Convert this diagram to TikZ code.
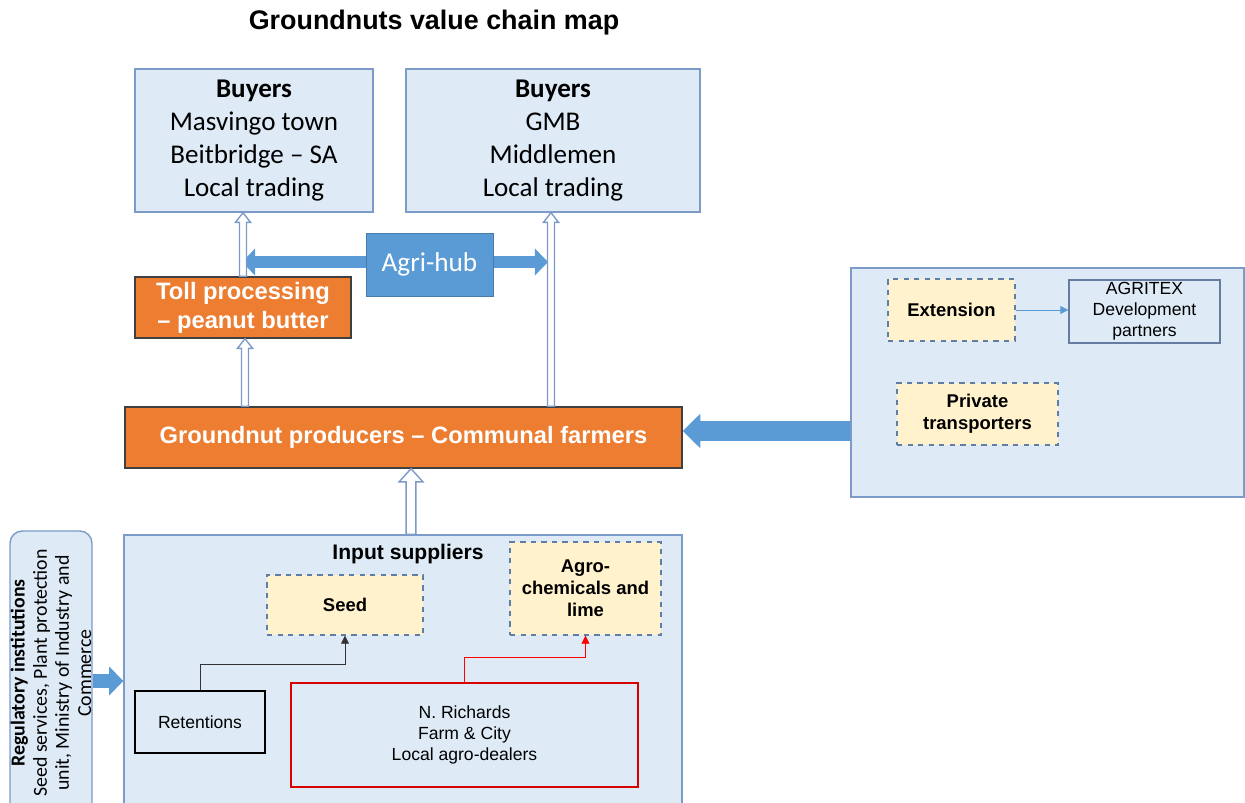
\documentclass[tikz,border=0pt]{standalone}
\usepackage{fontspec}
\setmainfont{Liberation Sans}
\newfontfamily\calibri{Carlito}
\usetikzlibrary{arrows.meta,calc}

\definecolor{paleblue}{RGB}{222,235,247}
\definecolor{edgeblue}{RGB}{125,155,200}
\definecolor{hubblue}{RGB}{91,155,213}
\definecolor{peanut}{RGB}{237,125,49}
\definecolor{cream}{RGB}{255,242,204}
\definecolor{dashblue}{RGB}{95,125,165}

\def\pxu{0.02cm}

% vertical hollow arrow: from, to, shaft half width, head half width, head length
\newcommand{\hollowup}[5]{%
	\draw[hollow] let \p1=(#1), \p2=(#2) in
		(\x1-#3,\y1) -- (\x1-#3,\y2-#5) -- (\x1-#4,\y2-#5) -- (\x1,\y2)
		-- (\x1+#4,\y2-#5) -- (\x1+#3,\y2-#5) -- (\x1+#3,\y1) -- cycle;}

\begin{document}
\begin{tikzpicture}[x=0.02cm, y=-0.02cm,
		buyers/.style={draw=edgeblue, fill=paleblue, thick, inner sep=0pt, align=center,
			minimum height=143*\pxu, font=\calibri\fontsize{15.4}{18.7}\selectfont},
		orangebox/.style={draw=black!75, fill=peanut, thick, inner sep=0pt, align=center,
			text=white, font=\bfseries\fontsize{13.5}{16.5}\selectfont},
		panel/.style={draw=edgeblue, fill=paleblue, thick, inner sep=0pt},
		dashbox/.style={draw=dashblue, fill=cream, thick, dashed, inner sep=0pt, align=center,
			font=\bfseries\fontsize{10.5}{12.6}\selectfont},
		plainbox/.style={draw, thick, inner sep=0pt, align=center,
			font=\fontsize{10}{12}\selectfont},
		hollow/.style={draw=edgeblue, fill=white, thick, line join=miter},
		fatarrow/.style={draw=hubblue},
		thinline/.style={thin, -{Triangle[width=4.5pt, length=4.5pt]}}]

	\useasboundingbox (0,0) rectangle (1245,803);

	\node[font=\bfseries\fontsize{15.3}{18}\selectfont] (title) at (434,23) {Groundnuts value chain map};

	% buyers
	\node[buyers, minimum width=238*\pxu] (buy1) at (254,140.5)
		{\textbf{Buyers}\\Masvingo town\\Beitbridge – SA\\Local trading};
	\node[buyers, minimum width=294*\pxu] (buy2) at (553,140.5)
		{\textbf{Buyers}\\GMB\\Middlemen\\Local trading};

	% processing and producers
	\node[orangebox, minimum width=216*\pxu, minimum height=61*\pxu] (toll) at (243,307.5)
		{Toll processing\\– peanut butter};
	\node[orangebox, minimum width=557*\pxu, minimum height=61*\pxu] (prod) at (403.5,437.5)
		{Groundnut producers – Communal farmers};

	% agri-hub
	\draw[fatarrow, line width=6.8pt, -{Triangle[width=15pt, length=7.5pt]}] (429.5,262) -- (242,262);
	\draw[fatarrow, line width=6.8pt, -{Triangle[width=15pt, length=7.5pt]}] (429.5,262) -- (548,262);
	\node[fill=hubblue, draw=hubblue!80!black, inner sep=0pt, minimum width=127*\pxu, minimum height=63*\pxu,
		text=white, font=\calibri\fontsize{15.5}{18}\selectfont] (hub) at (429.5,264.5) {Agri-hub};

	% hollow arrows
	\hollowup{243,0 |- toll.north}{243,0 |- buy1.south}{2pt}{4.3pt}{5.5pt}
	\hollowup{245,0 |- prod.north}{245,0 |- toll.south}{2pt}{4.3pt}{5.5pt}
	\hollowup{551,0 |- prod.north}{551,0 |- buy2.south}{2pt}{4.3pt}{5.5pt}

	% support services
	\node[panel, minimum width=393*\pxu, minimum height=229*\pxu] (support) at (1047.5,382.5) {};
	\node[dashbox, minimum width=127*\pxu, minimum height=62*\pxu] (ext) at (951.5,310) {Extension};
	\node[plainbox, draw=edgeblue!80!black, fill=paleblue, minimum width=151*\pxu, minimum height=63*\pxu]
		(agritex) at (1144.5,311.5) {AGRITEX\\Development\\partners};
	\node[dashbox, minimum width=161*\pxu, minimum height=62*\pxu] (transp) at (977.5,414)
		{Private\\transporters};
	\draw[thinline, hubblue] (ext.east) -- (ext.east -| agritex.west);
	\draw[fatarrow, line width=11pt, -{Triangle[width=19pt, length=10pt]}] (support.west |- 0,431) -- (prod.east |- 0,431);

	% input suppliers
	\node[panel, minimum width=558*\pxu, minimum height=280*\pxu] (inputs) at (403,675) {};
	\node[font=\bfseries\fontsize{12}{14}\selectfont] (inlabel) at (408,554) {Input suppliers};
	\node[dashbox, minimum width=156*\pxu, minimum height=60*\pxu] (seed) at (345,605) {Seed};
	\node[dashbox, minimum width=151*\pxu, minimum height=93*\pxu] (agro) at (585.5,588.5)
		{Agro-\\chemicals and\\lime};
	\node[plainbox, minimum width=130*\pxu, minimum height=62*\pxu] (ret) at (200,722) {Retentions};
	\node[plainbox, draw=red!85!black, minimum width=347*\pxu, minimum height=104*\pxu] (rich) at (464.5,735)
		{N. Richards\\Farm \& City\\Local agro-dealers};
	\draw[thinline, black!80] (ret.north) -- ++(0,-26) -| (seed.south);
	\draw[thinline, red] (rich.north) -- ++(0,-25) -| (agro.south);
	\hollowup{411,0 |- inputs.north}{411,0 |- prod.south}{2.8pt}{6.8pt}{7.5pt}

	% regulatory institutions
	\node[panel, rounded corners=7pt, rotate=90, align=center, minimum width=284*\pxu, minimum height=82*\pxu,
		font=\calibri\fontsize{11.3}{12.6}\selectfont] (reg) at (51,673)
		{\textbf{Regulatory institutions}\\Seed services, Plant protection\\unit, Ministry of Industry and\\Commerce};
	\draw[fatarrow, line width=8.5pt, -{Triangle[width=16pt, length=8pt]}] (reg.south |- 0,681) -- (inputs.west |- 0,681);
\end{tikzpicture}
\end{document}
